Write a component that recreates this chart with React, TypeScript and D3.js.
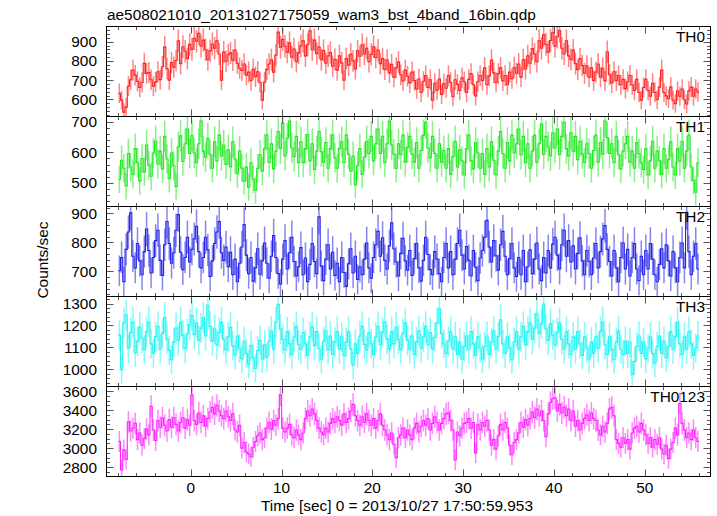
import React from 'react';
import * as d3 from 'd3';

const TITLE = "ae508021010_20131027175059_wam3_bst_4band_16bin.qdp";
const X_LABEL = "Time [sec] 0 = 2013/10/27 17:50:59.953";
const Y_LABEL = "Counts/sec";
const BIN_START = -8;
const BIN_WIDTH = 0.25;

const th0 = [
  632, 596, 534, 560, 668, 702, 752, 726, 694, 662, 688, 787, 735, 740, 702, 668,
  690, 744, 703, 770, 872, 760, 700, 792, 768, 802, 905, 786, 874, 850, 812, 886,
  860, 918, 902, 944, 878, 908, 858, 806, 852, 888, 866, 904, 836, 700, 846, 798,
  832, 842, 804, 856, 788, 762, 750, 784, 726, 742, 698, 756, 718, 744, 688, 596,
  690, 756, 784, 806, 742, 830, 950, 872, 912, 876, 846, 894, 820, 862, 796, 842,
  878, 904, 826, 884, 956, 858, 908, 838, 872, 806, 854, 788, 826, 844, 772, 808,
  752, 826, 790, 700, 812, 778, 834, 800, 758, 852, 824, 884, 836, 866, 796, 834,
  874, 818, 856, 786, 812, 756, 804, 738, 782, 716, 764, 794, 728, 696, 752, 720,
  686, 742, 698, 654, 706, 636, 694, 724, 662, 702, 596, 684, 648, 706, 626, 682,
  658, 724, 688, 614, 702, 678, 646, 712, 692, 636, 704, 734, 676, 618, 692, 724,
  698, 764, 676, 722, 804, 738, 688, 734, 764, 696, 724, 676, 742, 708, 766, 736,
  784, 716, 806, 758, 826, 788, 864, 836, 796, 904, 866, 936, 886, 846, 906, 946,
  876, 926, 958, 866, 836, 904, 826, 808, 856, 786, 754, 812, 776, 736, 774, 716,
  764, 698, 742, 784, 716, 762, 696, 848, 728, 686, 744, 698, 724, 676, 704, 656,
  692, 724, 676, 646, 704, 636, 596, 662, 704, 646, 616, 684, 636, 598, 664, 752,
  636, 618, 604, 664, 596, 578, 644, 616, 654, 598, 576, 644, 664, 616, 654, 638,
];

const th1 = [
  512, 574, 548, 490, 596, 552, 528, 612, 566, 506, 580, 536, 624, 558, 522, 598,
  636, 562, 604, 546, 652, 578, 514, 598, 556, 488, 618, 654, 570, 628, 676, 596,
  654, 598, 566, 628, 702, 604, 584, 646, 592, 548, 634, 572, 656, 588, 624, 560,
  608, 552, 634, 578, 530, 604, 548, 506, 552, 486, 566, 512, 476, 548, 592, 538,
  612, 656, 568, 628, 546, 604, 668, 612, 696, 588, 646, 702, 614, 586, 652, 566,
  634, 566, 612, 658, 572, 628, 544, 604, 668, 602, 568, 632, 548, 612, 656, 582,
  548, 612, 634, 566, 656, 594, 538, 588, 494, 556, 612, 528, 584, 636, 596, 652,
  572, 628, 676, 596, 652, 566, 628, 702, 624, 594, 548, 628, 592, 656, 568, 616,
  652, 594, 568, 632, 548, 606, 656, 698, 614, 582, 652, 596, 548, 628, 568, 606,
  548, 612, 528, 586, 636, 552, 608, 572, 526, 612, 656, 572, 546, 632, 598, 548,
  596, 528, 612, 552, 634, 574, 526, 604, 668, 596, 548, 632, 572, 656, 598, 628,
  676, 592, 652, 566, 628, 548, 604, 656, 568, 628, 692, 594, 652, 618, 588, 664,
  614, 676, 592, 652, 698, 612, 588, 664, 604, 652, 576, 636, 594, 566, 628, 596,
  548, 606, 656, 568, 632, 594, 702, 648, 596, 628, 566, 652, 592, 546, 604, 628,
  652, 568, 604, 548, 632, 596, 566, 544, 612, 526, 572, 636, 548, 604, 572, 528,
  612, 548, 576, 634, 552, 526, 612, 572, 636, 548, 604, 656, 552, 508, 470, 566,
];

const th2 = [
  702, 748, 664, 776, 836, 902, 752, 712, 796, 736, 688, 768, 846, 772, 694, 748,
  806, 842, 738, 686, 792, 872, 796, 728, 764, 842, 896, 766, 706, 748, 818, 732,
  776, 812, 856, 768, 712, 748, 818, 774, 682, 736, 796, 836, 872, 764, 738, 784,
  716, 766, 688, 742, 664, 728, 784, 862, 756, 692, 748, 666, 712, 778, 690, 736,
  798, 728, 676, 752, 824, 748, 692, 656, 742, 806, 708, 764, 818, 734, 684, 716,
  782, 688, 746, 664, 724, 796, 734, 692, 888, 718, 668, 742, 792, 708, 766, 686,
  728, 664, 748, 696, 648, 726, 778, 694, 752, 672, 716, 688, 742, 798, 712, 676,
  748, 792, 838, 752, 816, 738, 708, 788, 868, 778, 732, 684, 762, 814, 736, 704,
  772, 686, 744, 796, 712, 666, 738, 818, 758, 706, 688, 768, 742, 692, 664, 748,
  796, 712, 768, 688, 742, 796, 842, 756, 708, 786, 738, 684, 772, 714, 668, 746,
  772, 818, 876, 784, 732, 806, 754, 704, 792, 838, 752, 688, 744, 796, 712, 682,
  748, 688, 772, 664, 716, 774, 692, 742, 798, 708, 668, 748, 694, 772, 712, 794,
  818, 756, 708, 792, 842, 752, 806, 732, 788, 708, 762, 816, 736, 688, 772, 734,
  688, 746, 796, 712, 768, 812, 858, 776, 734, 684, 772, 712, 664, 748, 798, 708,
  776, 684, 748, 796, 708, 668, 752, 688, 772, 708, 796, 742, 688, 664, 724, 778,
  712, 792, 736, 684, 768, 712, 664, 748, 798, 712, 904, 768, 688, 752, 796, 708,
];

const th3 = [
  1156, 998, 1212, 1248, 1096, 1168, 1214, 1076, 1128, 1192, 1142, 1088, 1172, 1216, 1116, 1072,
  1148, 1196, 1092, 1164, 1236, 1138, 1086, 1044, 1124, 1188, 1132, 1214, 1156, 1094, 1162, 1204,
  1246, 1158, 1212, 1132, 1188, 1236, 1152, 1292, 1196, 1128, 1184, 1112, 1168, 1214, 1136, 1088,
  1148, 1192, 1108, 1066, 1152, 1096, 1048, 1128, 1072, 1024, 1108, 1052, 1004, 1086, 1132, 1048,
  1112, 1054, 1128, 1174, 1092, 1216, 1296, 1184, 1136, 1088, 1172, 1116, 1068, 1148, 1196, 1112,
  1092, 1168, 1116, 1064, 1148, 1194, 1108, 1172, 1094, 1046, 1128, 1176, 1088, 1152, 1068, 1124,
  1172, 1092, 1148, 1062, 1124, 1172, 1094, 1018, 1116, 1072, 1152, 1196, 1114, 1088, 1168, 1116,
  1068, 1148, 1196, 1112, 1168, 1216, 1138, 1092, 1172, 1116, 1192, 1136, 1088, 1164, 1212, 1132,
  1092, 1152, 1068, 1124, 1176, 1096, 1148, 1196, 1112, 1168, 1092, 1146, 1212, 1276, 1164, 1116,
  1072, 1128, 1172, 1092, 1148, 1068, 1124, 1046, 1104, 1152, 1092, 1172, 1116, 1064, 1148, 1096,
  1048, 1104, 1152, 1068, 1124, 1176, 1092, 1148, 1226, 1116, 1072, 1148, 1096, 1044, 1124, 1172,
  1092, 1148, 1196, 1112, 1172, 1212, 1136, 1188, 1256, 1164, 1208, 1298, 1184, 1132, 1208, 1156,
  1112, 1168, 1212, 1136, 1092, 1172, 1116, 1068, 1148, 1092, 1172, 1116, 1064, 1148, 1096, 1048,
  1124, 1072, 1148, 1096, 1172, 1216, 1112, 1068, 1148, 1092, 1044, 1124, 1176, 1092, 1068, 1128,
  1072, 1124, 976, 1036, 1104, 1152, 1072, 1124, 1048, 1096, 1148, 1072, 1028, 1104, 1152, 1072,
  1128, 1052, 1104, 1172, 1092, 1148, 1216, 1116, 1068, 1148, 1092, 1172, 1116, 1064, 1096, 1152,
];

const th0123 = [
  3070, 2772, 2982, 2880, 3277, 3180, 3210, 3260, 3090, 3160, 3030, 3100, 3200, 3140, 3440, 3190,
  3080, 3290, 3220, 3320, 3240, 3180, 3300, 3220, 3320, 3250, 3180, 3270, 3320, 3210, 3300, 3240,
  3560, 3290, 3250, 3370, 3270, 3340, 3230, 3310, 3380, 3430, 3360, 3450, 3390, 3340, 3310, 3390,
  3330, 3290, 3360, 3190, 3170, 3240, 3000, 3060, 2960, 2940, 2910, 3010, 3070, 3130, 3160, 3090,
  3110, 3210, 3270, 3200, 3290, 3240, 3310, 3560, 3210, 3170, 3210, 3250, 3140, 3110, 3190, 3140,
  3090, 3160, 3310, 3390, 3340, 3410, 3360, 3290, 3210, 3170, 3140, 3210, 3170, 3260, 3310, 3270,
  3330, 3290, 3240, 3360, 3270, 3310, 3390, 3460, 3340, 3290, 3240, 3330, 3270, 3360, 3290, 3240,
  3310, 3210, 3290, 3360, 3240, 3190, 3140, 3090, 3160, 3040, 2900, 3110, 3140, 3210, 3110, 3190,
  3140, 3090, 3210, 3260, 3170, 3230, 3290, 3240, 3310, 3190, 3260, 3330, 3270, 3190, 3260, 3310,
  3360, 3372, 3290, 3190, 2877, 3170, 3130, 3210, 3260, 3270, 3310, 3210, 3270, 2950, 3250, 3190,
  3270, 3230, 3290, 3190, 3030, 3090, 2990, 3130, 3250, 3190, 3270, 3210, 3030, 2930, 3060, 3090,
  3160, 3270, 3220, 3300, 3240, 3310, 3380, 3320, 3410, 3340, 3390, 3290, 3120, 3360, 3480, 3520,
  3530, 3390, 3460, 3370, 3430, 3340, 3410, 3290, 3390, 3230, 3290, 3190, 3260, 3310, 3350, 3290,
  3370, 3310, 3290, 3190, 3140, 3230, 3170, 3260, 3410, 3430, 3340, 3090, 3050, 3010, 3110, 3050,
  3090, 2990, 3160, 3210, 3230, 3170, 3260, 3190, 3140, 3050, 3110, 3010, 3090, 3040, 3110, 2990,
  2940, 3030, 2890, 2990, 3060, 3210, 3140, 3470, 3260, 3190, 3110, 3160, 3090, 3190, 3110, 3070,
];

const PANEL_SERIES = [th0, th1, th2, th3, th0123];
const PANEL_NAMES = ["TH0", "TH1", "TH2", "TH3", "TH0123"];
const PANEL_COLORS = ["#ff2020", "#22e822", "#2222e8", "#22f4f4", "#ff22ff"];
const Y_DOMAINS = [[511, 979], [423, 717], [613, 924], [922, 1332], [2702, 3648]];
const Y_TICKS = [
  [600, 700, 800, 900],
  [500, 600, 700],
  [700, 800, 900],
  [1000, 1100, 1200, 1300],
  [2800, 3000, 3200, 3400, 3600],
];
const Y_MINOR = [20, 20, 20, 20, 50];
const X_DOMAIN = [-9.29, 57.25];
const X_TICKS = [0, 10, 20, 30, 40, 50];
const X_MINOR = 2;

const W = 717, H = 516;
const LEFT = 106.5, RIGHT = 710.5, TOP = 26.5, PANEL_H = 90;
const FONT = "'Liberation Sans', Arial, Helvetica, sans-serif";
const FS = 15.4;

export default function App() {
  const x = d3.scaleLinear().domain(X_DOMAIN).range([LEFT, RIGHT]);
  const xMinor = d3.range(Math.ceil(X_DOMAIN[0] / X_MINOR) * X_MINOR, X_DOMAIN[1], X_MINOR);

  return (
    <svg width={W} height={H} style={{ position: 'absolute', left: 0, top: 0, background: '#fff' }}
      fontFamily={FONT}>
      <defs>
        {PANEL_NAMES.map((n, p) => (
          <clipPath id={`clip${p}`} key={n}>
            <rect x={LEFT} y={TOP + p * PANEL_H} width={RIGHT - LEFT} height={PANEL_H} />
          </clipPath>
        ))}
      </defs>
      <text x={107} y={20} fontSize={FS} fill="#000">{TITLE}</text>
      {PANEL_SERIES.map((vals, p) => {
        const top = TOP + p * PANEL_H;
        const bot = top + PANEL_H;
        const [d0, d1] = Y_DOMAINS[p];
        const y = d3.scaleLinear().domain([d0, d1]).range([bot, top]);
        const color = PANEL_COLORS[p];
        const times = vals.map((_, i) => BIN_START + BIN_WIDTH * (i + 0.5));
        let path = '';
        vals.forEach((v, i) => {
          const xl = x(times[i] - BIN_WIDTH / 2), xr = x(times[i] + BIN_WIDTH / 2);
          path += (i === 0 ? `M${xl},${y(v)}` : `V${y(v)}`) + `H${xr}`;
        });
        const yMinor = d3.range(Math.ceil(d0 / Y_MINOR[p]) * Y_MINOR[p], d1, Y_MINOR[p]);
        return (
          <g key={p}>
            <g clipPath={`url(#clip${p})`}>
              {vals.map((v, i) => {
                const e = Math.sqrt(v / BIN_WIDTH);
                return (
                  <line key={i} x1={x(times[i])} x2={x(times[i])} y1={y(v - e)} y2={y(v + e)}
                    stroke={color} strokeOpacity={0.55} strokeWidth={1.5} />
                );
              })}
              <path d={path} fill="none" stroke={color} strokeWidth={1.1} />
            </g>
            {yMinor.map(t => (
              <g key={`ym${t}`} stroke="#555" strokeWidth={1}>
                <line x1={LEFT} x2={LEFT + 3.5} y1={Math.round(y(t)) + 0.5} y2={Math.round(y(t)) + 0.5} />
                <line x1={RIGHT} x2={RIGHT - 3.5} y1={Math.round(y(t)) + 0.5} y2={Math.round(y(t)) + 0.5} />
              </g>
            ))}
            {Y_TICKS[p].map(t => (
              <g key={`yt${t}`}>
                <line x1={LEFT} x2={LEFT + 7} y1={Math.round(y(t)) + 0.5} y2={Math.round(y(t)) + 0.5} stroke="#555" />
                <line x1={RIGHT} x2={RIGHT - 7} y1={Math.round(y(t)) + 0.5} y2={Math.round(y(t)) + 0.5} stroke="#555" />
                <text x={97} y={y(t)} fontSize={FS} textAnchor="end" dominantBaseline="central" fill="#000">{t}</text>
              </g>
            ))}
            {xMinor.map(t => {
              const major = X_TICKS.includes(t);
              const len = major ? 7 : 3.5;
              const xx = Math.round(x(t)) + 0.5;
              return (
                <g key={`xt${t}`} stroke="#555">
                  <line x1={xx} x2={xx} y1={top} y2={top + len} />
                  <line x1={xx} x2={xx} y1={bot} y2={bot - len} />
                </g>
              );
            })}
            <rect x={LEFT} y={top} width={RIGHT - LEFT} height={PANEL_H} fill="none" stroke="#000" strokeWidth={1} />
            <text x={705} y={top + 15.4} fontSize={FS} textAnchor="end" fill="#000">{PANEL_NAMES[p]}</text>
          </g>
        );
      })}
      {X_TICKS.map(t => (
        <text key={t} x={x(t)} y={493} fontSize={FS} textAnchor="middle" fill="#000">{t}</text>
      ))}
      <text x={261} y={511} fontSize={FS} fill="#000">{X_LABEL}</text>
      <text transform={`translate(42,260) rotate(-90)`} fontSize={FS} textAnchor="middle"
        dominantBaseline="central" fill="#000">{Y_LABEL}</text>
    </svg>
  );
}
